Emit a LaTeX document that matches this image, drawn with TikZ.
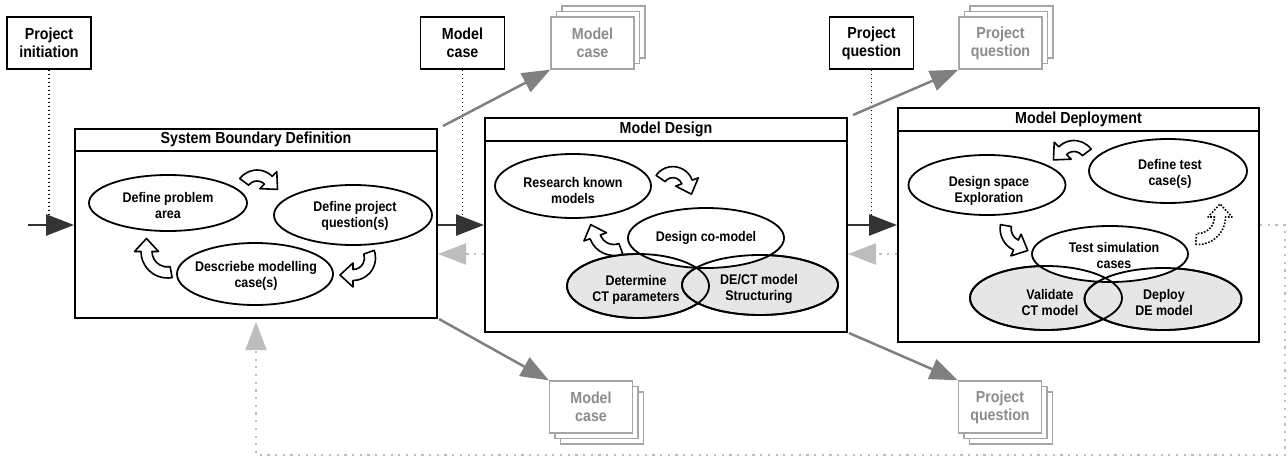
\documentclass[tikz,border=0pt]{standalone}
\usepackage{fontspec}
\setmainfont{Liberation Sans}[FakeStretch=0.89]
\usetikzlibrary{arrows.meta,shapes.geometric}
\definecolor{dk}{HTML}{333333}
\definecolor{gr}{HTML}{808080}
\definecolor{lg}{HTML}{BDBDBD}
\definecolor{gbox}{HTML}{A6A6A6}
\definecolor{gtext}{HTML}{8C8C8C}
\definecolor{efill}{HTML}{E6E6E6}
\newcommand{\bendarr}[6][]{%
  \begin{scope}[shift={#2}]
    \draw[barrow,#1] (#4:{#3+5.5}) arc[start angle=#4, end angle=#5, radius={#3+5.5}]
      -- (#5:{#3+12}) -- ({#5 #6 atan(13/#3)}:{sqrt(#3*#3+169)})
      -- (#5:{#3-12}) -- (#5:{#3-5.5})
      arc[start angle=#5, end angle=#4, radius={#3-5.5}] -- cycle;
  \end{scope}}
\begin{document}
\begin{tikzpicture}[x=1pt,y=-1pt,
  phase/.style={draw, line width=2pt, rectangle, inner sep=0pt, fill=white},
  hdr/.style={font=\fontsize{16}{18}\selectfont\bfseries, inner sep=0pt},
  ell/.style={draw, ellipse, line width=1.8pt, inner sep=0pt, fill=white},
  gell/.style={ell, fill=efill},
  eline/.style={line width=1.8pt},
  etext/.style={font=\fontsize{14}{16}\selectfont\bfseries, align=center, inner sep=0pt},
  topbox/.style={draw, line width=1.5pt, minimum width=84pt, minimum height=52pt, inner sep=0pt, align=center, font=\fontsize{16}{18}\selectfont\bfseries, fill=white},
  stackbox/.style={draw=gbox, line width=1.4pt, minimum width=83pt, minimum height=52pt, inner sep=0pt, fill=white, align=center, text=gtext, font=\fontsize{16}{18}\selectfont\bfseries},
  blk/.style={draw=dk, line width=2.5pt, -{Triangle[length=28pt,width=21pt]}},
  gry/.style={draw=gr, line width=2.5pt, -{Triangle[length=28pt,width=21pt]}},
  back/.style={draw=lg, line width=2.2pt, dash pattern=on 2.2pt off 5.5pt, -{Triangle[length=28pt,width=21pt]}},
  vdot/.style={line width=1.2pt, dash pattern=on 1.2pt off 2.8pt},
  barrow/.style={draw, line width=1.6pt, fill=white, line join=round},
]
\useasboundingbox (0,0) rectangle (1288,458);
\coordinate (y225) at (0,225);
\coordinate (y254) at (0,254);
\coordinate (start) at (28,225);
\coordinate (loopc) at (1285,455);

% top input boxes
\node[topbox] (pi) at (49,43) {Project\\initiation};
\node[topbox] (mc) at (462.5,43) {Model\\case};
\node[topbox] (pq) at (871.5,43) {Project\\question};

% grey stacked output boxes (top)
\node[stackbox] (mct2) at (603.5,32) {};
\node[stackbox] (mct1) at (598,37.5) {};
\node[stackbox] (mct) at (592.5,43) {Model\\case};
\node[stackbox] (pqt2) at (1011.5,32) {};
\node[stackbox] (pqt1) at (1006,37.5) {};
\node[stackbox] (pqt) at (1000.5,43) {Project\\question};
% grey stacked output boxes (bottom)
\node[stackbox] (mcb2) at (602,418) {};
\node[stackbox] (mcb1) at (596.5,412.5) {};
\node[stackbox] (mcb) at (591,407) {Model\\case};
\node[stackbox] (pqb2) at (1011,418) {};
\node[stackbox] (pqb1) at (1005.5,412.5) {};
\node[stackbox] (pqb) at (1000,407) {Project\\question};

% phase boxes
\node[phase, minimum width=362pt, minimum height=189pt] (sbd) at (256,223.5) {};
\node[phase, minimum width=362pt, minimum height=214pt] (md) at (666,225) {};
\node[phase, minimum width=361pt, minimum height=234pt] (mdep) at (1078.5,225) {};
\draw[line width=2pt] ([yshift=-23pt]sbd.north west) -- ([yshift=-23pt]sbd.north east);
\draw[line width=2pt] ([yshift=-24pt]md.north west) -- ([yshift=-24pt]md.north east);
\draw[line width=2pt] ([yshift=-24pt]mdep.north west) -- ([yshift=-24pt]mdep.north east);
\node[hdr] (sbdh) at ([yshift=-11.5pt]sbd.north) {System Boundary Definition};
\node[hdr] (mdh) at ([yshift=-12pt]md.north) {Model Design};
\node[hdr] (mdeph) at ([yshift=-12pt]mdep.north) {Model Deployment};

% System Boundary Definition contents
\node[ell, minimum width=158pt, minimum height=56pt] (e1) at (168,203) {};
\node[ell, minimum width=158pt, minimum height=60pt] (e2) at (353,215) {};
\node[ell, minimum width=156pt, minimum height=62pt] (e3) at (255,274) {};
\node[etext] (t1) at (168,205) {Define problem\\area};
\node[etext] (t2) at (355,216) {Define project\\question(s)};
\node[etext] (t3) at (256,276) {Descriebe modelling\\case(s)};
\bendarr{(257,191.5)}{16}{217}{315}{+}
\bendarr{(353,258)}{17}{-20}{90}{+}
\bendarr{(167.5,251.5)}{21}{80}{180}{+}

% Model Design contents
\node[ell, minimum width=156pt, minimum height=64pt] (e4) at (573,186) {};
\node[gell, minimum width=142pt, minimum height=64pt] (e6) at (638,286) {};
\node[gell, minimum width=156pt, minimum height=60pt] (e7) at (760,285) {};
\node[ell, minimum width=156pt, minimum height=60pt] (e5) at (706,238) {};
\draw[eline] (e6.center) ellipse [x radius=71, y radius=32];
\draw[eline] (e7.center) ellipse [x radius=78, y radius=30];
\node[etext] (t4) at (573,190) {Research known\\models};
\node[etext] (t5) at (706,238) {Design co-model};
\node[etext] (t6) at (636,290) {Determine\\CT parameters};
\node[etext] (t7) at (759,289) {DE/CT model\\Structuring};
\bendarr{(672.9,187.1)}{15}{215}{340}{+}
\bendarr{(614,230)}{20}{70}{160}{+}

% Model Deployment contents
\node[ell, minimum width=157pt, minimum height=60pt] (e8) at (987,185) {};
\node[ell, minimum width=158pt, minimum height=64pt] (e9) at (1168,171) {};
\node[gell, minimum width=152pt, minimum height=64pt] (e11) at (1046,298) {};
\node[gell, minimum width=157pt, minimum height=62pt] (e12) at (1163,299) {};
\node[ell, minimum width=156pt, minimum height=56pt] (e10) at (1110,254) {};
\draw[eline] (e11.center) ellipse [x radius=76, y radius=32];
\draw[eline] (e12.center) ellipse [x radius=78.5, y radius=31];
\node[etext] (t8) at (989,191) {Design space\\Exploration};
\node[etext] (t9) at (1170,174) {Define test\\case(s)};
\node[etext] (t10) at (1114,255) {Test simulation\\cases};
\node[etext] (t11) at (1050,302) {Validate\\CT model};
\node[etext] (t12) at (1164,302) {Deploy\\DE model};
\bendarr{(1074,162)}{16}{323}{225}{-}
\bendarr{(1023.6,228.7)}{18}{190}{115}{-}
\bendarr[dash pattern=on 1.6pt off 1.6pt]{(1198,217)}{22}{95}{0}{-}

% dotted input lines
\draw[vdot] (pi.south) -- (pi.south |- y225);
\draw[vdot] (mc.south) -- (mc.south |- y225);
\draw[vdot] (pq.south) -- (pq.south |- y225);

% main flow arrows
\draw[blk] (start) -- (sbd.west |- y225);
\draw[blk] (sbd.east |- y225) -- (md.west |- y225);
\draw[blk] (md.east |- y225) -- (mdep.west |- y225);

% back arrows
\draw[back] (md.west |- y254) -- (sbd.east |- y254);
\draw[back] (mdep.west |- y254) -- (md.east |- y254);
\draw[back] (mdep.east |- y225) -| (loopc) -| ([yshift=-3pt]sbd.south);

% output arrows
\draw[gry] ([xshift=5pt,yshift=2pt]sbd.north east) -- (mct.south west);
\draw[gry] ([xshift=5pt,yshift=2pt]md.north east) -- (pqt.south west);
\draw[gry] ([xshift=1pt]sbd.south east) -- (mcb.north west);
\draw[gry] ([xshift=1pt]md.south east) -- (pqb.north west);
\end{tikzpicture}
\end{document}
